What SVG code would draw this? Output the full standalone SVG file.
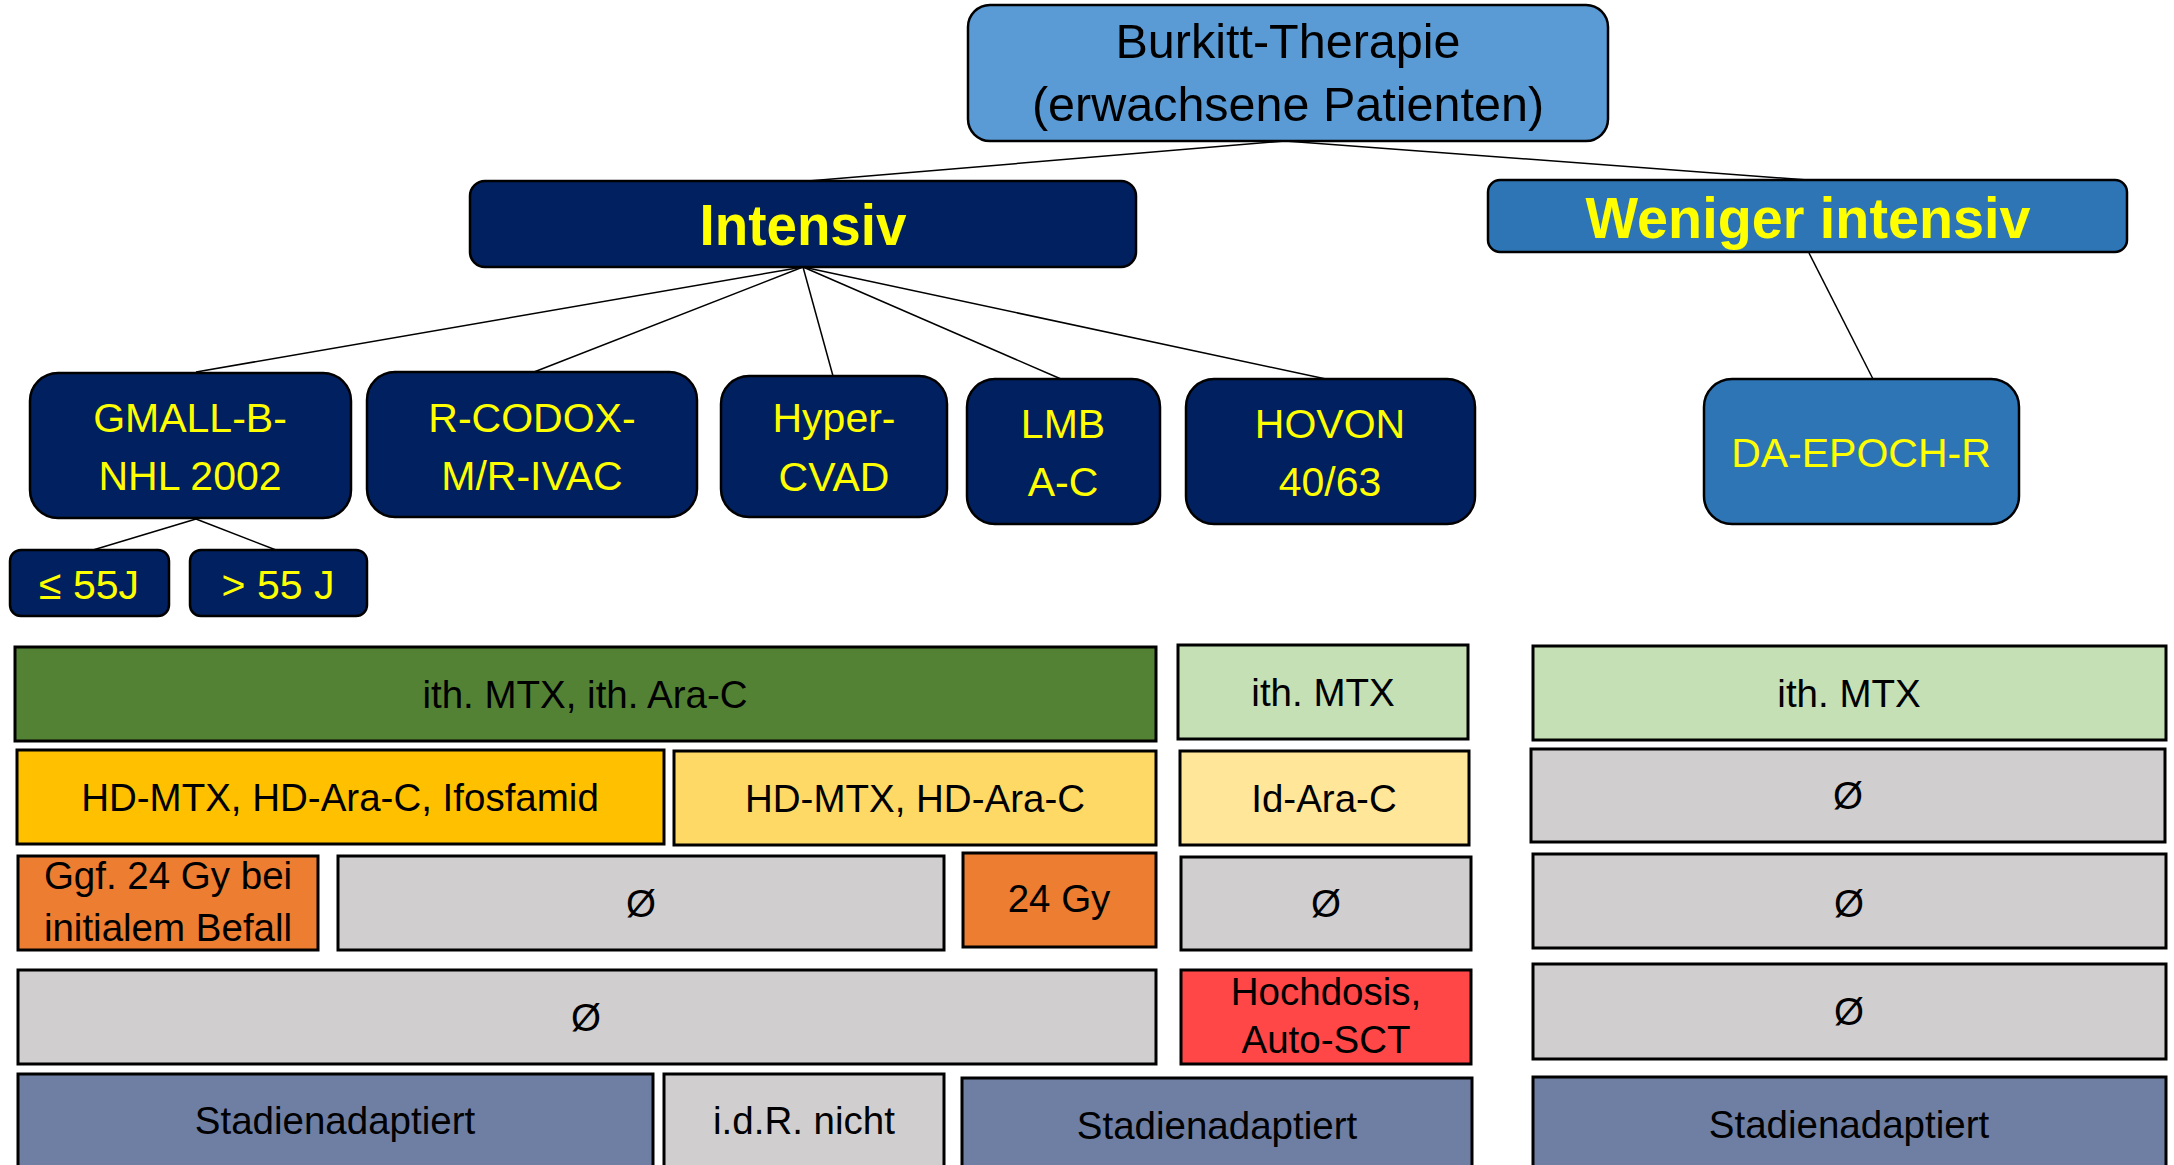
<svg xmlns="http://www.w3.org/2000/svg" width="2174" height="1165" viewBox="0 0 2174 1165">
  <style>
    text { font-family: "Liberation Sans", Arial, sans-serif; text-anchor: middle; }
    .node { stroke: #000; stroke-width: 2.5; }
    .root { fill: #5B9BD5; }
    .navy { fill: #002060; }
    .blue { fill: #2E75B6; }
    .t-root { font-size: 48.5px; fill: #000; }
    .t-head { font-size: 57px; font-weight: bold; fill: #FFFF00; }
    .t-node { font-size: 41px; fill: #FFFF00; }
    .cell { stroke: #000; stroke-width: 3; }
    .t-cell { font-size: 38.5px; fill: #000; }
    .conn line { stroke: #000; stroke-width: 1.5; fill: none; }
  </style>

  <!-- connectors -->
  <g id="connectors" class="conn">
    <line x1="1285" y1="141" x2="808" y2="181"/>
    <line x1="1285" y1="141" x2="1808" y2="180"/>
    <line x1="803" y1="267" x2="196" y2="372"/>
    <line x1="803" y1="267" x2="534" y2="372"/>
    <line x1="803" y1="267" x2="833" y2="376"/>
    <line x1="803" y1="267" x2="1061" y2="379"/>
    <line x1="803" y1="267" x2="1326" y2="379"/>
    <line x1="1809" y1="253" x2="1873" y2="379"/>
    <line x1="196" y1="519" x2="93" y2="550"/>
    <line x1="196" y1="519" x2="276" y2="550"/>
  </g>

  <!-- tree nodes -->
  <g id="root">
    <rect class="node root" x="968" y="5" width="640" height="136" rx="22"/>
    <text class="t-root" x="1288" y="58">Burkitt-Therapie</text>
    <text class="t-root" x="1288" y="121">(erwachsene Patienten)</text>
  </g>
  <g id="intensiv">
    <rect class="node navy" x="470" y="181" width="666" height="86" rx="15"/>
    <text class="t-head" x="803" y="245" textLength="207" lengthAdjust="spacingAndGlyphs">Intensiv</text>
  </g>
  <g id="weniger-intensiv">
    <rect class="node blue" x="1488" y="180" width="639" height="72" rx="12"/>
    <text class="t-head" x="1808" y="238" textLength="445" lengthAdjust="spacingAndGlyphs">Weniger intensiv</text>
  </g>
  <g id="gmall">
    <rect class="node navy" x="30" y="373" width="321" height="145" rx="28"/>
    <text class="t-node" x="190" y="432">GMALL-B-</text>
    <text class="t-node" x="190" y="490">NHL 2002</text>
  </g>
  <g id="r-codox">
    <rect class="node navy" x="367" y="372" width="330" height="145" rx="28"/>
    <text class="t-node" x="532" y="432">R-CODOX-</text>
    <text class="t-node" x="532" y="490">M/R-IVAC</text>
  </g>
  <g id="hyper-cvad">
    <rect class="node navy" x="721" y="376" width="226" height="141" rx="28"/>
    <text class="t-node" x="834" y="432">Hyper-</text>
    <text class="t-node" x="834" y="491">CVAD</text>
  </g>
  <g id="lmb">
    <rect class="node navy" x="967" y="379" width="193" height="145" rx="28"/>
    <text class="t-node" x="1063" y="438">LMB</text>
    <text class="t-node" x="1063" y="496">A-C</text>
  </g>
  <g id="hovon">
    <rect class="node navy" x="1186" y="379" width="289" height="145" rx="28"/>
    <text class="t-node" x="1330" y="438">HOVON</text>
    <text class="t-node" x="1330" y="496">40/63</text>
  </g>
  <g id="da-epoch-r">
    <rect class="node blue" x="1704" y="379" width="315" height="145" rx="28"/>
    <text class="t-node" x="1861" y="467">DA-EPOCH-R</text>
  </g>
  <g id="age-le55">
    <rect class="node navy" x="10" y="550" width="159" height="66" rx="11"/>
    <text class="t-node" x="89" y="599">≤ 55J</text>
  </g>
  <g id="age-gt55">
    <rect class="node navy" x="190" y="550" width="177" height="66" rx="11"/>
    <text class="t-node" x="278" y="599">&gt; 55 J</text>
  </g>

  <!-- table, row 1: intrathecal therapy -->
  <g id="row1">
    <rect class="cell" x="15" y="647" width="1141" height="94" fill="#548235"/>
    <text class="t-cell" x="585" y="708">ith. MTX, ith. Ara-C</text>
    <rect class="cell" x="1178" y="645" width="290" height="94" fill="#C5E0B4"/>
    <text class="t-cell" x="1323" y="706">ith. MTX</text>
    <rect class="cell" x="1533" y="646" width="633" height="94" fill="#C5E0B4"/>
    <text class="t-cell" x="1849" y="707">ith. MTX</text>
  </g>

  <!-- row 2: systemic CNS-active therapy -->
  <g id="row2">
    <rect class="cell" x="17" y="750" width="647" height="94" fill="#FFC000"/>
    <text class="t-cell" x="340" y="811">HD-MTX, HD-Ara-C, Ifosfamid</text>
    <rect class="cell" x="674" y="751" width="482" height="94" fill="#FFD966"/>
    <text class="t-cell" x="915" y="812">HD-MTX, HD-Ara-C</text>
    <rect class="cell" x="1180" y="751" width="289" height="94" fill="#FFE699"/>
    <text class="t-cell" x="1324" y="812">Id-Ara-C</text>
    <rect class="cell" x="1531" y="749" width="634" height="93" fill="#D0CECE"/>
    <text class="t-cell" x="1848" y="809">Ø</text>
  </g>

  <!-- row 3: radiotherapy -->
  <g id="row3">
    <rect class="cell" x="18" y="856" width="300" height="94" fill="#ED7D31"/>
    <text class="t-cell" x="168" y="889">Ggf. 24 Gy bei</text>
    <text class="t-cell" x="168" y="941">initialem Befall</text>
    <rect class="cell" x="338" y="856" width="606" height="94" fill="#D0CECE"/>
    <text class="t-cell" x="641" y="917">Ø</text>
    <rect class="cell" x="963" y="853" width="193" height="94" fill="#ED7D31"/>
    <text class="t-cell" x="1059" y="912">24 Gy</text>
    <rect class="cell" x="1181" y="857" width="290" height="93" fill="#D0CECE"/>
    <text class="t-cell" x="1326" y="917">Ø</text>
    <rect class="cell" x="1533" y="854" width="633" height="94" fill="#D0CECE"/>
    <text class="t-cell" x="1849" y="917">Ø</text>
  </g>

  <!-- row 4: high-dose therapy -->
  <g id="row4">
    <rect class="cell" x="18" y="970" width="1138" height="94" fill="#D0CECE"/>
    <text class="t-cell" x="586" y="1031">Ø</text>
    <rect class="cell" x="1181" y="970" width="290" height="94" fill="#FF4747"/>
    <text class="t-cell" x="1326" y="1005">Hochdosis,</text>
    <text class="t-cell" x="1326" y="1053">Auto-SCT</text>
    <rect class="cell" x="1533" y="964" width="633" height="95" fill="#D0CECE"/>
    <text class="t-cell" x="1849" y="1025">Ø</text>
  </g>

  <!-- row 5: staging -->
  <g id="row5">
    <rect class="cell" x="18" y="1074" width="635" height="110" fill="#6E7FA3"/>
    <text class="t-cell" x="335" y="1134">Stadienadaptiert</text>
    <rect class="cell" x="664" y="1074" width="280" height="110" fill="#D0CECE"/>
    <text class="t-cell" x="804" y="1134">i.d.R. nicht</text>
    <rect class="cell" x="962" y="1078" width="510" height="110" fill="#6E7FA3"/>
    <text class="t-cell" x="1217" y="1139">Stadienadaptiert</text>
    <rect class="cell" x="1533" y="1077" width="633" height="110" fill="#6E7FA3"/>
    <text class="t-cell" x="1849" y="1138">Stadienadaptiert</text>
  </g>
</svg>
